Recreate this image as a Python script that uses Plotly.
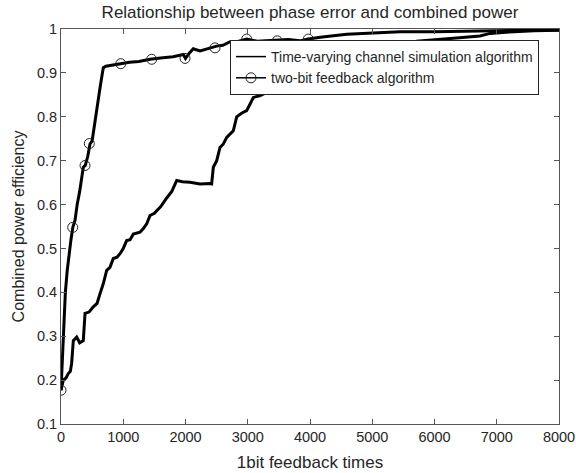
import plotly.graph_objects as go

# two-bit feedback algorithm (fast rising curve)
fast_x = [0, 20, 45, 70, 100, 130, 160, 190, 225, 260, 300, 358, 390, 430, 466,
          500, 546, 580, 627, 660, 680, 720, 800, 895, 960, 1100, 1250, 1430,
          1600, 1800, 1965, 2000, 2060, 2125, 2233, 2350, 2500, 2600, 2715, 2768,
          2983, 3150, 3304, 3480, 3650, 3839, 3970, 4200, 4590, 5017, 5446, 6000,
          6500, 7160, 7600, 7920, 8000]
fast_y = [0.177, 0.25, 0.33, 0.40, 0.45, 0.49, 0.52, 0.548, 0.564, 0.60, 0.63,
          0.685, 0.689, 0.71, 0.738, 0.745, 0.79, 0.83, 0.866, 0.895, 0.912,
          0.915, 0.917, 0.92, 0.92, 0.924, 0.926, 0.931, 0.934, 0.937, 0.942,
          0.933, 0.945, 0.955, 0.95, 0.955, 0.961, 0.963, 0.971, 0.969, 0.977,
          0.972, 0.973, 0.974, 0.976, 0.973, 0.977, 0.982, 0.988, 0.991, 0.994,
          0.994, 0.995, 0.996, 0.997, 0.998, 0.998]

# circle marker positions on the two-bit feedback curve
circle_x = [0, 188, 386, 455, 960, 1457, 1992, 2474, 2983, 3475, 3973]
circle_y = [0.177, 0.548, 0.689, 0.739, 0.921, 0.931, 0.933, 0.957, 0.977, 0.973, 0.977]

# time-varying channel simulation algorithm (slow rising curve)
slow_x = [0, 37, 80, 117, 150, 171, 198, 252, 300, 358, 386, 450, 519, 580, 627,
          680, 734, 787, 840, 900, 948, 1000, 1055, 1110, 1162, 1269, 1320, 1377,
          1430, 1500, 1537, 1600, 1698, 1780, 1859, 1950, 2072, 2233, 2394, 2420,
          2447, 2501, 2554, 2608, 2662, 2768, 2822, 2900, 2983, 3090, 3200, 3304,
          3400, 3518, 3625, 3800, 4000, 4300, 4700, 5100, 5500, 5713, 6000, 6400,
          6731, 6892, 7200, 7600, 8000]
slow_y = [0.177, 0.20, 0.205, 0.215, 0.22, 0.238, 0.29, 0.298, 0.285, 0.29, 0.352,
          0.355, 0.367, 0.375, 0.397, 0.42, 0.45, 0.457, 0.477, 0.48, 0.488, 0.50,
          0.518, 0.52, 0.533, 0.537, 0.545, 0.556, 0.575, 0.58, 0.586, 0.595,
          0.615, 0.63, 0.655, 0.652, 0.651, 0.647, 0.648, 0.647, 0.685, 0.70,
          0.73, 0.738, 0.753, 0.768, 0.80, 0.808, 0.814, 0.844, 0.848, 0.855,
          0.862, 0.87, 0.882, 0.895, 0.905, 0.92, 0.935, 0.948, 0.96, 0.972,
          0.976, 0.98, 0.984, 0.99, 0.993, 0.996, 0.997]

x_ticks = [0, 1000, 2000, 3000, 4000, 5000, 6000, 7000, 8000]
y_ticks = [0.1, 0.2, 0.3, 0.4, 0.5, 0.6, 0.7, 0.8, 0.9, 1]
y_tick_labels = ["0.1", "0.2", "0.3", "0.4", "0.5", "0.6", "0.7", "0.8", "0.9", "1"]

FONT = "Liberation Sans, Arial, sans-serif"
TXT = "#262626"
AX = "#555555"

fig = go.Figure()
fig.add_trace(go.Scatter(x=slow_x, y=slow_y, mode="lines",
                         line=dict(color="black", width=3),
                         showlegend=False, hoverinfo="skip"))
fig.add_trace(go.Scatter(x=fast_x, y=fast_y, mode="lines",
                         line=dict(color="black", width=3),
                         showlegend=False, hoverinfo="skip"))
fig.add_trace(go.Scatter(x=circle_x, y=circle_y, mode="markers",
                         marker=dict(symbol="circle-open", size=10, color="#222222",
                                     line=dict(width=1)),
                         showlegend=False))
fig.add_trace(go.Scatter(x=[None], y=[None], mode="lines",
                         line=dict(color="black", width=1.5),
                         name="Time-varying channel simulation algorithm"))
fig.add_trace(go.Scatter(x=[None], y=[None], mode="lines+markers",
                         line=dict(color="black", width=1.5),
                         marker=dict(symbol="circle-open", size=10, color="#222222",
                                     line=dict(width=1)),
                         name="two-bit feedback algorithm"))

fig.update_layout(
    width=576, height=473,
    margin=dict(l=61, r=17, t=29, b=49),
    paper_bgcolor="white", plot_bgcolor="white",
    font=dict(family=FONT, size=14, color=TXT),
    title=dict(text="Relationship between phase error and combined power",
               x=310 / 576, xanchor="center",
               y=1 - 12 / 473, yanchor="middle", yref="container",
               font=dict(size=17, color=TXT)),
    legend=dict(x=(230 - 61) / 498, y=(424 - 40) / 395, xanchor="left", yanchor="top",
                bgcolor="white", bordercolor="#262626", borderwidth=1,
                font=dict(size=14, color=TXT), tracegroupgap=0,
                itemwidth=30),
    showlegend=True,
)
fig.update_xaxes(range=[0, 8000], tickvals=x_ticks, ticks="inside", ticklen=5,
                 tickcolor=AX, linecolor=AX, linewidth=1, mirror="ticks",
                 showgrid=False, zeroline=False, showline=True, automargin=False,
                 tickfont=dict(size=14.5, color=TXT),
                 title=dict(text="1bit feedback times", font=dict(size=17, color=TXT),
                            standoff=11))
fig.update_yaxes(range=[0.1, 1], tickvals=y_ticks, ticktext=y_tick_labels,
                 ticks="inside", ticklen=5,
                 tickcolor=AX, linecolor=AX, linewidth=1, mirror="ticks",
                 showgrid=False, zeroline=False, showline=True, automargin=False,
                 tickfont=dict(size=14.5, color=TXT),
                 title=dict(text="Combined power efficiency",
                            font=dict(size=16, color=TXT), standoff=8))

fig.write_html("out.html")
